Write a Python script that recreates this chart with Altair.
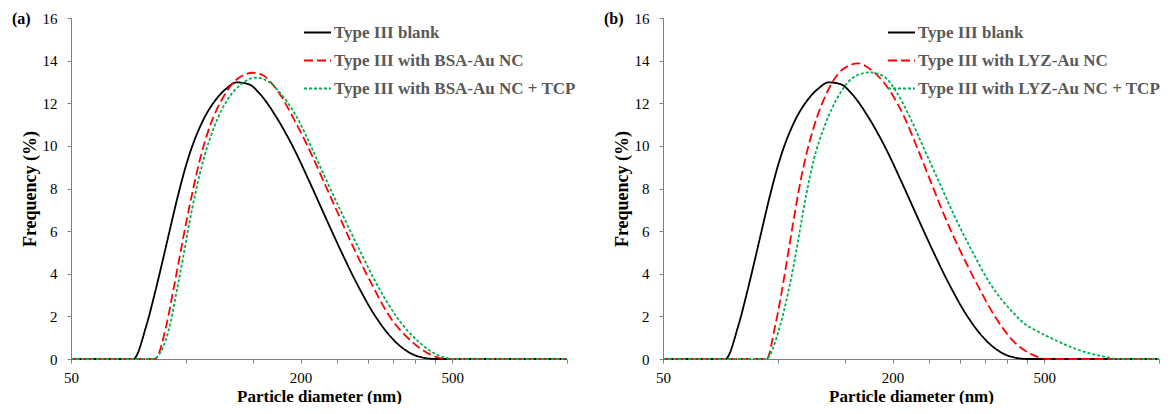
import altair as alt
import pandas as pd

FONT = "Liberation Serif"

series_a = ["Type III blank", "Type III with BSA-Au NC", "Type III with BSA-Au NC + TCP"]
series_b = ["Type III blank", "Type III with LYZ-Au NC", "Type III with LYZ-Au NC + TCP"]

# Particle diameter (nm) / frequency (%)
blank_d = [50, 72.8, 78.9, 83.0, 87.2, 90.8, 95.5, 101.4, 110, 120.3, 128, 135.8, 146, 156.3,
           172.8, 193, 211.3, 231.2, 255.6, 279.9, 315.7, 356, 393.8, 435.4, 452, 1000]
blank_f = [0, 0, 1.6, 3.1, 4.7, 6.05, 7.7, 9.4, 11.05, 12.2, 12.7, 12.98, 12.9, 12.45,
           11.35, 9.8, 8.3, 6.75, 5.05, 3.6, 1.95, 0.78, 0.22, 0.02, 0, 0]

bsa_d = [50, 83.0, 89.0, 92.7, 96.4, 100, 104.2, 108.9, 116.1, 125.3, 133.0, 141, 150, 160,
         166, 176.2, 190.9, 211.3, 231.2, 253, 277, 306.3, 341.9, 393.8, 435.4, 486, 1000]
bsa_f = [0, 0, 1.6, 3.2, 4.8, 6.3, 7.85, 9.35, 11.0, 12.27, 12.95, 13.3, 13.43, 13.3,
         13.04, 12.45, 11.35, 9.79, 8.24, 6.68, 5.13, 3.57, 2.02, 0.78, 0.23, 0, 0]

bsa_tcp_d = [50, 82, 90.8, 94.6, 98.4, 102, 106.2, 111.5, 119.1, 129, 140, 152, 166, 174.4,
             194.9, 214.7, 235.8, 259.2, 285.4, 315.7, 356, 409.9, 453, 506, 1000]
bsa_tcp_f = [0, 0, 1.55, 3.15, 4.75, 6.3, 7.85, 9.4, 10.95, 12.2, 12.9, 13.2, 12.98, 12.6,
             11.4, 9.85, 8.24, 6.68, 5.13, 3.57, 2.02, 0.78, 0.23, 0, 0]

lyz_d = [50, 93.5, 98.3, 102.3, 105.8, 109.3, 113.1, 117.6, 124.3, 134.1, 143.8, 153, 162.4,
         174.1, 196.5, 215.4, 233.6, 253, 274.2, 300.1, 331.9, 370.6, 418, 462.2, 511, 1000]
lyz_f = [0, 0, 1.5, 3.1, 4.66, 6.2, 7.75, 9.25, 10.88, 12.44, 13.37, 13.75, 13.87,
         13.62, 12.6, 11.3, 9.79, 8.24, 6.68, 5.13, 3.57, 2.02, 0.78, 0.23, 0, 0]

lyz_tcp_d = [50, 93, 101.2, 106.4, 110.8, 114.7, 118.9, 124.3, 132.8, 145.4, 157.5, 174.1,
             190, 204.5, 222, 243, 266, 291.2, 322, 359.6, 418, 442, 480, 521, 560, 605,
             650, 697, 740, 775, 1000]
lyz_tcp_f = [0, 0, 1.5, 3.1, 4.66, 6.2, 7.75, 9.35, 10.95, 12.44, 13.2, 13.45,
             13.25, 12.55, 11.35, 9.79, 8.24, 6.68, 5.13, 3.57, 2.1, 1.68, 1.3, 0.98, 0.72,
             0.47, 0.29, 0.16, 0.06, 0, 0]

x_ticks = [50, 100, 150, 200, 250, 300, 350, 400, 450, 500, 1000]
x_labelled = [50, 200, 500]
y_ticks = [0, 2, 4, 6, 8, 10, 12, 14, 16]
colors = ["#000000", "#ff0000", "#00b050"]
dashes = [[1, 0], [9, 4], [3, 2]]


def frame(names, pairs):
    rows = []
    for name, (ds, fs) in zip(names, pairs):
        for d, f in zip(ds, fs):
            rows.append({"series": name, "d": d, "f": f})
    return pd.DataFrame(rows)


df_a = frame(series_a, [(blank_d, blank_f), (bsa_d, bsa_f), (bsa_tcp_d, bsa_tcp_f)])
df_b = frame(series_b, [(blank_d, blank_f), (lyz_d, lyz_f), (lyz_tcp_d, lyz_tcp_f)])

label_expr = ("indexof([" + ",".join(str(v) for v in x_labelled)
              + "], datum.value) >= 0 ? format(datum.value, 'd') : ''")

W, H = 496, 341


def panel(df, names, tag, lx):
    legend = alt.Legend(
        orient="none", legendX=lx, legendY=0, symbolType="stroke", symbolSize=729,
        symbolStrokeWidth=2, labelFont=FONT, labelFontSize=17, labelFontWeight="bold",
        labelColor="#595959", labelOffset=2, rowPadding=5, padding=0, labelLimit=400,
    )
    lines = alt.Chart(df).mark_line(strokeWidth=1.8, interpolate="monotone").encode(
        x=alt.X(
            "d:Q",
            scale=alt.Scale(type="log", domain=[50, 1000], nice=False),
            axis=alt.Axis(
                values=x_ticks, labelExpr=label_expr, title="Particle diameter (nm)",
                labelPadding=7, titleX=W / 2, titleY=42, titleAlign="center",
                titleBaseline="alphabetic", titleFontSize=17, labelFlush=False,
                labelOverlap=False,
            ),
        ),
        y=alt.Y(
            "f:Q",
            scale=alt.Scale(domain=[0, 16], nice=False),
            axis=alt.Axis(
                values=y_ticks, title="Frequency (%)", labelPadding=10, titleX=-41,
                titleY=H / 2, titleAngle=270, titleAlign="center", titleBaseline="middle",
            ),
        ),
        color=alt.Color("series:N", scale=alt.Scale(domain=names, range=colors),
                        legend=legend, title=None),
        strokeDash=alt.StrokeDash("series:N", scale=alt.Scale(domain=names, range=dashes),
                                  legend=legend, title=None),
    )
    label = alt.Chart(pd.DataFrame({"t": [tag]})).mark_text(
        align="left", baseline="middle", font=FONT, fontSize=16, fontWeight="bold",
        color="#000000",
    ).encode(x=alt.value(-59), y=alt.value(1), text="t:N")
    return alt.layer(lines, label).properties(width=W, height=H)


chart_a = panel(df_a, series_a, "(a)", 232)
chart_b = panel(df_b, series_b, "(b)", 224)

chart = alt.hconcat(chart_a, chart_b, spacing=96, bounds="flush").resolve_scale(
    color="independent", strokeDash="independent"
).resolve_legend(
    color="independent", strokeDash="independent"
).properties(
    padding={"left": 4, "top": 3, "right": 0, "bottom": 0}
).configure(font=FONT).configure_view(stroke=None).configure_axis(
    grid=False, domainColor="#7f7f7f", tickColor="#7f7f7f", tickSize=4,
    labelColor="#000000", labelFont=FONT, labelFontSize=15,
    titleFont=FONT, titleFontSize=18, titleFontWeight="bold", titleColor="#000000",
)

chart.save("out.html", embed_options={"renderer": "svg", "actions": False})
